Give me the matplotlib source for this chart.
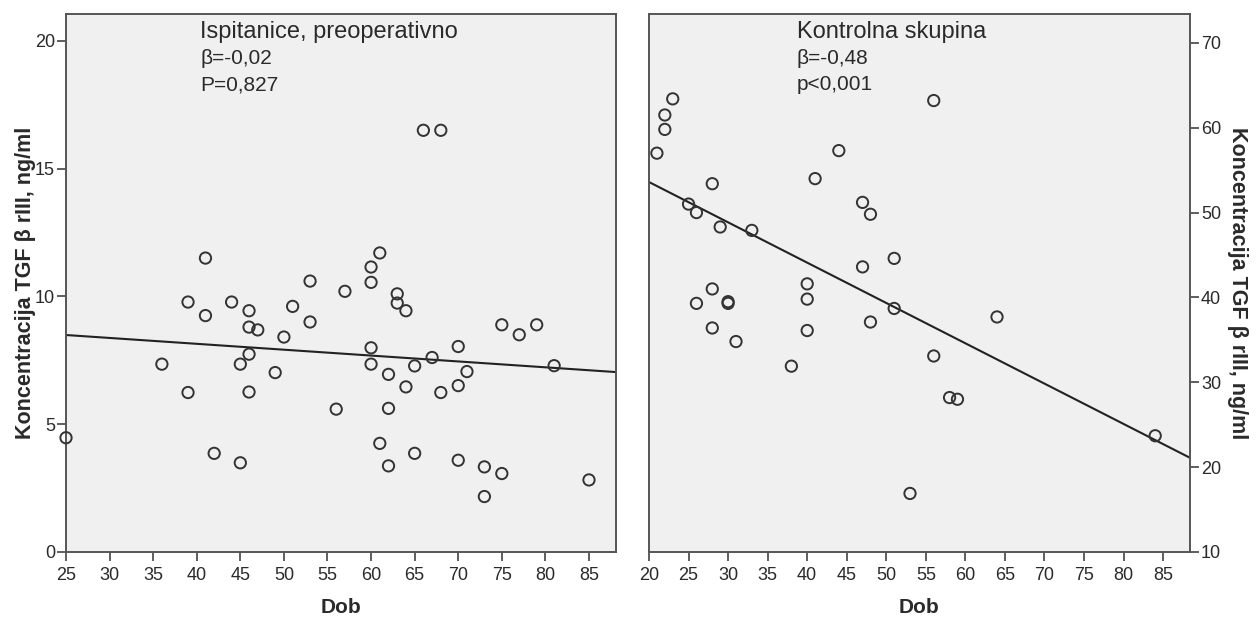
import matplotlib.pyplot as plt
import numpy as np

plt.rcParams['font.family'] = ['Liberation Sans', 'DejaVu Sans']

# Ispitanice, preoperativno (dob, koncentracija)
age_pat = [25, 36, 39, 39, 41, 41, 42, 44, 45, 45, 46, 46, 46, 46, 47, 49, 50,
           51, 53, 53, 56, 57, 60, 60, 60, 60, 61, 61, 62, 62, 62, 63, 63, 64,
           64, 65, 65, 66, 67, 68, 68, 70, 70, 70, 71, 73, 73, 75, 75, 77, 79,
           81, 85]
tgf_pat = [4.47, 7.35, 6.24, 9.78, 9.25, 11.5, 3.86, 9.78, 7.35, 3.49, 9.44,
           8.80, 7.74, 6.26, 8.69, 7.02, 8.41, 9.61, 9.00, 10.6, 5.59, 10.2,
           11.15, 10.55, 7.99, 7.35, 11.7, 4.25, 6.95, 5.62, 3.37, 10.1, 9.74,
           9.44, 6.46, 7.28, 3.86, 16.5, 7.61, 16.5, 6.24, 8.04, 6.51, 3.59,
           7.06, 3.33, 2.17, 8.89, 3.07, 8.50, 8.89, 7.29, 2.82]

# Kontrolna skupina
age_ctrl = [21, 22, 22, 23, 25, 26, 26, 28, 28, 28, 29, 30, 30, 31, 33, 38, 40,
            40, 40, 41, 44, 47, 47, 48, 48, 51, 51, 53, 56, 56, 58, 59, 64, 84]
tgf_ctrl = [57.0, 61.5, 59.8, 63.4, 51.0, 50.0, 39.3, 53.4, 41.0, 36.4, 48.3,
            39.5, 39.3, 34.8, 47.9, 31.9, 41.6, 39.8, 36.1, 54.0, 57.3, 51.2,
            43.6, 49.8, 37.1, 44.6, 38.7, 16.9, 63.2, 33.1, 28.2, 28.0, 37.7, 23.7]

# regresijski pravci (očitano s grafa)
fit_pat_x, fit_pat_y = [25, 88.1], [8.49, 7.04]
fit_ctrl_x, fit_ctrl_y = [20, 88.4], [53.6, 21.1]

ylabel = 'Koncentracija TGF β rIII, ng/ml'
frame = '#555555'
txt = '#2a2a2a'

fig = plt.figure(figsize=(12.6, 6.22), dpi=100)
W, H = 1260, 622
ax1 = fig.add_axes([66 / W, 1 - 552 / H, 550 / W, 538 / H])
ax2 = fig.add_axes([649 / W, 1 - 552 / H, 541 / W, 538 / H])

for ax in (ax1, ax2):
    ax.set_facecolor('#f0f0f0')
    for s in ax.spines.values():
        s.set_color(frame)
        s.set_linewidth(1.4)
    ax.tick_params(direction='out', length=6.5, width=1.1, color='#333333',
                   labelsize=13, labelcolor=txt)
    ax.tick_params(axis='x', pad=4)
    ax.tick_params(axis='y', pad=1.5)
    ax.set_xlabel('Dob', fontsize=15, fontweight='bold', color=txt)
    ax.xaxis.label.set_va('center')
    ax.xaxis.set_label_coords(0.5, -0.104)

# lijevi graf
ax1.scatter(age_pat, tgf_pat, s=66, facecolors='none', edgecolors='#333333',
            linewidths=1.4, clip_on=False, zorder=3)
ax1.plot(fit_pat_x, fit_pat_y, color='#222222', lw=1.5)
ax1.set_xlim(25, 88.1)
ax1.set_ylim(0, 21.05)
ax1.set_xticks(np.arange(25, 90, 5))
ax1.set_yticks(np.arange(0, 21, 5))
ax1.set_ylabel(ylabel, fontsize=15.5, fontweight='bold', color=txt)
ax1.yaxis.label.set_va('center')
ax1.yaxis.set_label_coords(-0.073, 0.5)
ax1.text(200 / W, 1 - 32 / H, 'Ispitanice, preoperativno', transform=fig.transFigure,
         fontsize=17, color=txt, va='center', ha='left')
ax1.text(200 / W, 1 - 59 / H, 'β=-0,02', transform=fig.transFigure,
         fontsize=15, color=txt, va='center', ha='left')
ax1.text(200 / W, 1 - 85 / H, 'P=0,827', transform=fig.transFigure,
         fontsize=15, color=txt, va='center', ha='left')

# desni graf
ax2.scatter(age_ctrl, tgf_ctrl, s=66, facecolors='none', edgecolors='#333333',
            linewidths=1.4, clip_on=False, zorder=3)
ax2.plot(fit_ctrl_x, fit_ctrl_y, color='#222222', lw=1.5)
ax2.set_xlim(20, 88.4)
ax2.set_ylim(10, 73.4)
ax2.set_xticks(np.arange(20, 90, 5))
ax2.set_yticks(np.arange(10, 71, 10))
ax2.yaxis.tick_right()
ax2.yaxis.set_label_position('right')
ax2.set_ylabel(ylabel, fontsize=15.5, fontweight='bold', color=txt, rotation=270)
ax2.yaxis.label.set_va('center')
ax2.yaxis.set_label_coords(1.087, 0.5)
ax2.text(797 / W, 1 - 32 / H, 'Kontrolna skupina', transform=fig.transFigure,
         fontsize=17, color=txt, va='center', ha='left')
ax2.text(797 / W, 1 - 59 / H, 'β=-0,48', transform=fig.transFigure,
         fontsize=15, color=txt, va='center', ha='left')
ax2.text(797 / W, 1 - 85 / H, 'p<0,001', transform=fig.transFigure,
         fontsize=15, color=txt, va='center', ha='left')

fig.savefig('out.png', dpi=100)
